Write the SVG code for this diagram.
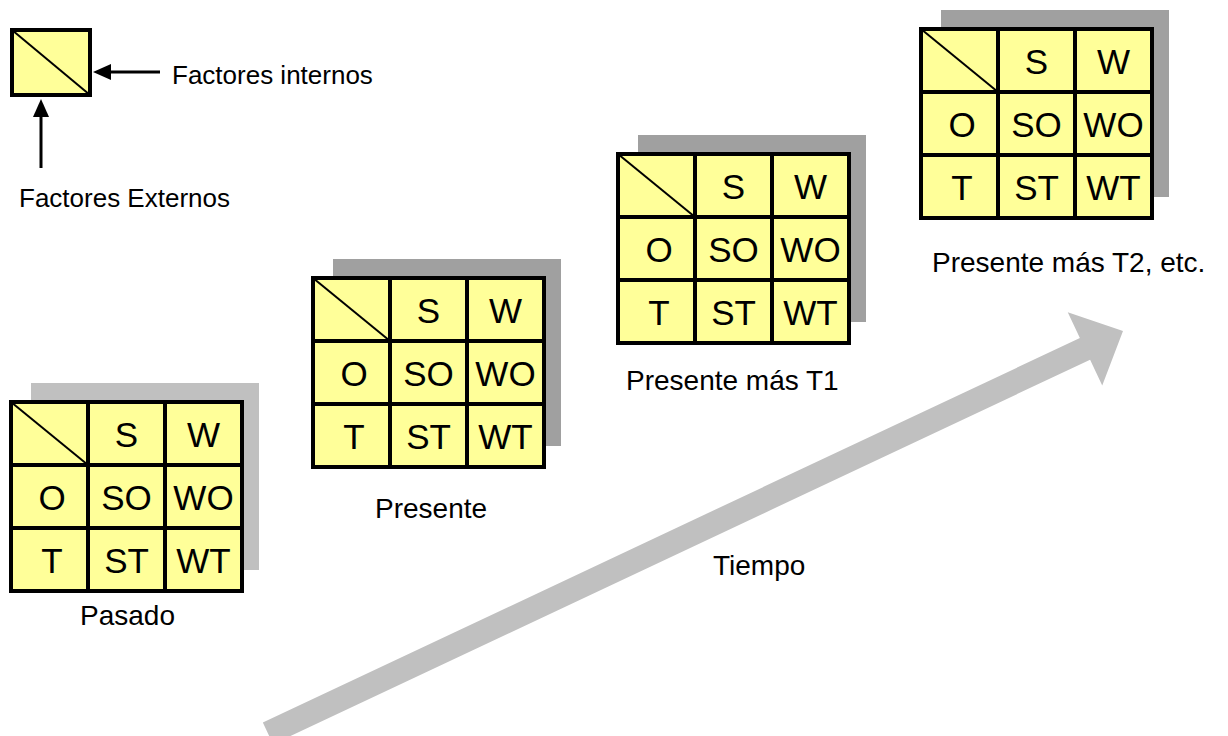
<svg xmlns="http://www.w3.org/2000/svg" width="1228" height="736" viewBox="0 0 1228 736">
  <defs>
    <style>
      .cell { fill: #ffff99; stroke: #000; stroke-width: 4; }
      .grid { stroke: #000; stroke-width: 4; fill: none; }
      .diag { stroke: #000; stroke-width: 2; }
      .sh-light { fill: #c0c0c0; }
      .sh-dark { fill: #a0a0a0; }
      .ct { font-family: "Liberation Sans", Arial, sans-serif; font-size: 35px; fill: #000; text-anchor: middle; }
      .lbl { font-family: "Liberation Sans", Arial, sans-serif; font-size: 28px; fill: #000; }
      .leg { font-family: "Liberation Sans", Arial, sans-serif; font-size: 26px; fill: #000; }
      .pointer { stroke: #000; stroke-width: 3; fill: none; }
    </style>
    <marker id="head" markerUnits="userSpaceOnUse" markerWidth="18" markerHeight="16" refX="0" refY="8" orient="auto" viewBox="0 0 18 16">
      <path d="M0,0 L18,8 L0,16 Z" fill="#000"/>
    </marker>
  </defs>

  <!-- time arrow and legend pointers -->
  <g id="connectors">
    <polygon id="tiempo-arrow" transform="translate(1123,331) rotate(-25.2)" points="-945,-12 -42,-12 -42,-40.5 0,0 -42,40.5 -42,12 -945,12" fill="#c0c0c0"/>
    <line class="pointer" x1="160" y1="72" x2="111" y2="72" marker-end="url(#head)"/>
    <line class="pointer" x1="41" y1="168" x2="41" y2="117" marker-end="url(#head)"/>
  </g>

  <!-- legend -->
  <g id="legend">
    <rect class="cell" x="12" y="30" width="78" height="65"/>
    <line class="diag" x1="12" y1="30" x2="90" y2="95"/>
    <text class="leg" x="172" y="84">Factores internos</text>
    <text class="leg" x="19" y="207">Factores Externos</text>
  </g>

  <!-- Pasado -->
  <g id="pasado" transform="translate(11,402)">
    <rect class="sh-light" x="20" y="-19" width="228" height="187"/>
    <rect class="cell" x="0" y="0" width="231" height="189"/>
    <path class="grid" d="M77,0V189M154,0V189M0,63H231M0,126H231"/>
    <line class="diag" x1="0" y1="0" x2="77" y2="63"/>
    <text class="ct" x="115.5" y="45">S</text>
    <text class="ct" x="192.5" y="45">W</text>
    <text class="ct" x="41" y="108">O</text>
    <text class="ct" x="115.5" y="108">SO</text>
    <text class="ct" x="192.5" y="108">WO</text>
    <text class="ct" x="41" y="171">T</text>
    <text class="ct" x="115.5" y="171">ST</text>
    <text class="ct" x="192.5" y="171">WT</text>
    <text class="lbl" x="69" y="223">Pasado</text>
  </g>

  <!-- Presente -->
  <g id="presente" transform="translate(313,278)">
    <rect class="sh-dark" x="20" y="-19" width="228" height="187"/>
    <rect class="cell" x="0" y="0" width="231" height="189"/>
    <path class="grid" d="M77,0V189M154,0V189M0,63H231M0,126H231"/>
    <line class="diag" x1="0" y1="0" x2="77" y2="63"/>
    <text class="ct" x="115.5" y="45">S</text>
    <text class="ct" x="192.5" y="45">W</text>
    <text class="ct" x="41" y="108">O</text>
    <text class="ct" x="115.5" y="108">SO</text>
    <text class="ct" x="192.5" y="108">WO</text>
    <text class="ct" x="41" y="171">T</text>
    <text class="ct" x="115.5" y="171">ST</text>
    <text class="ct" x="192.5" y="171">WT</text>
    <text class="lbl" x="62" y="240">Presente</text>
  </g>

  <!-- Presente más T1 -->
  <g id="presente-t1" transform="translate(618,154)">
    <rect class="sh-dark" x="20" y="-19" width="228" height="187"/>
    <rect class="cell" x="0" y="0" width="231" height="189"/>
    <path class="grid" d="M77,0V189M154,0V189M0,63H231M0,126H231"/>
    <line class="diag" x1="0" y1="0" x2="77" y2="63"/>
    <text class="ct" x="115.5" y="45">S</text>
    <text class="ct" x="192.5" y="45">W</text>
    <text class="ct" x="41" y="108">O</text>
    <text class="ct" x="115.5" y="108">SO</text>
    <text class="ct" x="192.5" y="108">WO</text>
    <text class="ct" x="41" y="171">T</text>
    <text class="ct" x="115.5" y="171">ST</text>
    <text class="ct" x="192.5" y="171">WT</text>
    <text class="lbl" x="8" y="236">Presente más T1</text>
  </g>

  <!-- Presente más T2, etc. -->
  <g id="presente-t2" transform="translate(921,29)">
    <rect class="sh-dark" x="20" y="-19" width="228" height="187"/>
    <rect class="cell" x="0" y="0" width="231" height="189"/>
    <path class="grid" d="M77,0V189M154,0V189M0,63H231M0,126H231"/>
    <line class="diag" x1="0" y1="0" x2="77" y2="63"/>
    <text class="ct" x="115.5" y="45">S</text>
    <text class="ct" x="192.5" y="45">W</text>
    <text class="ct" x="41" y="108">O</text>
    <text class="ct" x="115.5" y="108">SO</text>
    <text class="ct" x="192.5" y="108">WO</text>
    <text class="ct" x="41" y="171">T</text>
    <text class="ct" x="115.5" y="171">ST</text>
    <text class="ct" x="192.5" y="171">WT</text>
    <text class="lbl" x="11" y="243">Presente más T2, etc.</text>
  </g>

  <text id="tiempo" class="lbl" x="713" y="575">Tiempo</text>
</svg>
